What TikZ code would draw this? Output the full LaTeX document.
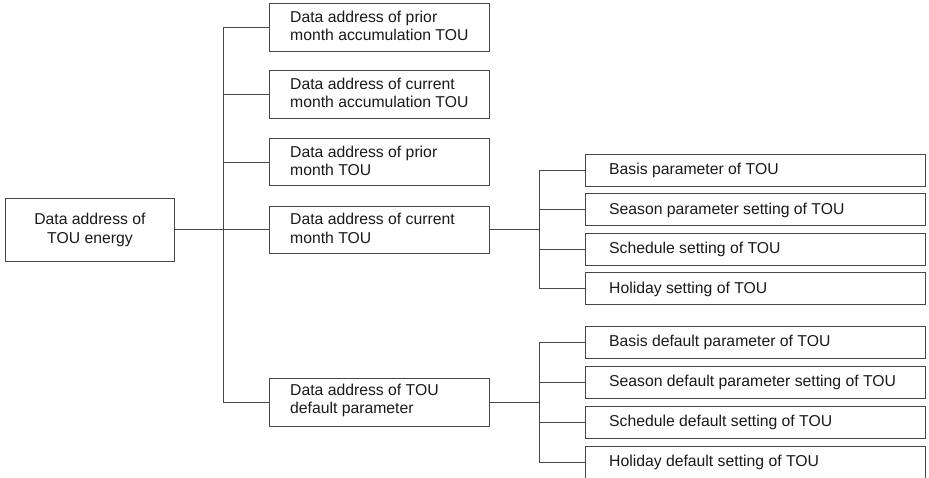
\documentclass[tikz,border=0pt]{standalone}
\usepackage{fontspec}
\setmainfont{Liberation Sans}
\begin{document}
\begin{tikzpicture}[x=1pt,y=-1pt,
  every node/.style={font=\fontsize{15.75}{18.3}\selectfont},
  box/.style={draw=black!72, line width=0.9pt, inner sep=0pt, text=black!90},
  lbl/.style={anchor=west, inner sep=0pt, align=left, text=black!90, yshift=1.5pt},
  rootbox/.style={box, minimum width=169pt, minimum height=63pt, align=center, anchor=north west},
  midbox/.style={box, minimum width=220pt, minimum height=47.5pt, anchor=north west,
    label={[lbl, xshift=21pt]west:#1}},
  leafbox/.style={box, minimum width=340pt, minimum height=32pt, anchor=north west,
    label={[lbl, xshift=24pt, yshift=-1.5pt]west:#1}},
  wire/.style={draw=black!72, line width=0.9pt}]
\useasboundingbox (0,0) rectangle (929,478);

\node[rootbox] (root) at (5,198) {Data address of\\TOU energy};

\node[midbox={Data address of prior\\month accumulation TOU}] (n1) at (269,3.5) {};
\node[midbox={Data address of current\\month accumulation TOU}] (n2) at (269,70.5) {};
\node[midbox={Data address of prior\\month TOU}] (n3) at (269,138) {};
\node[midbox={Data address of current\\month TOU}] (n4) at (269,205.75) {};
\node[midbox={Data address of TOU\\default parameter}] (n5) at (269,378) {};

\node[leafbox={Basis parameter of TOU}] (a1) at (585,154) {};
\node[leafbox={Season parameter setting of TOU}] (a2) at (585,193.5) {};
\node[leafbox={Schedule setting of TOU}] (a3) at (585,233) {};
\node[leafbox={Holiday setting of TOU}] (a4) at (585,272.5) {};

\node[leafbox={Basis default parameter of TOU}] (b1) at (585,326) {};
\node[leafbox={Season default parameter setting of TOU}] (b2) at (585,366) {};
\node[leafbox={Schedule default setting of TOU}] (b3) at (585,405.5) {};
\node[leafbox={Holiday default setting of TOU}] (b4) at (585,445.5) {};

\coordinate (tr) at (223,0);
\coordinate (sa) at (539,0);

\draw[wire] (root.east) -- (root.east -| n4.west);
\draw[wire] (n1.west) -- (n1.west -| tr) -- (n5.west -| tr) -- (n5.west);
\draw[wire] (n2.west) -- (n2.west -| tr);
\draw[wire] (n3.west) -- (n3.west -| tr);

\draw[wire] (n4.east) -- (n4.east -| sa);
\draw[wire] (a1.west) -- (a1.west -| sa) -- (a4.west -| sa) -- (a4.west);
\draw[wire] (a2.west) -- (a2.west -| sa);
\draw[wire] (a3.west) -- (a3.west -| sa);

\draw[wire] (n5.east) -- (n5.east -| sa);
\draw[wire] (b1.west) -- (b1.west -| sa) -- (b4.west -| sa) -- (b4.west);
\draw[wire] (b2.west) -- (b2.west -| sa);
\draw[wire] (b3.west) -- (b3.west -| sa);
\end{tikzpicture}
\end{document}
